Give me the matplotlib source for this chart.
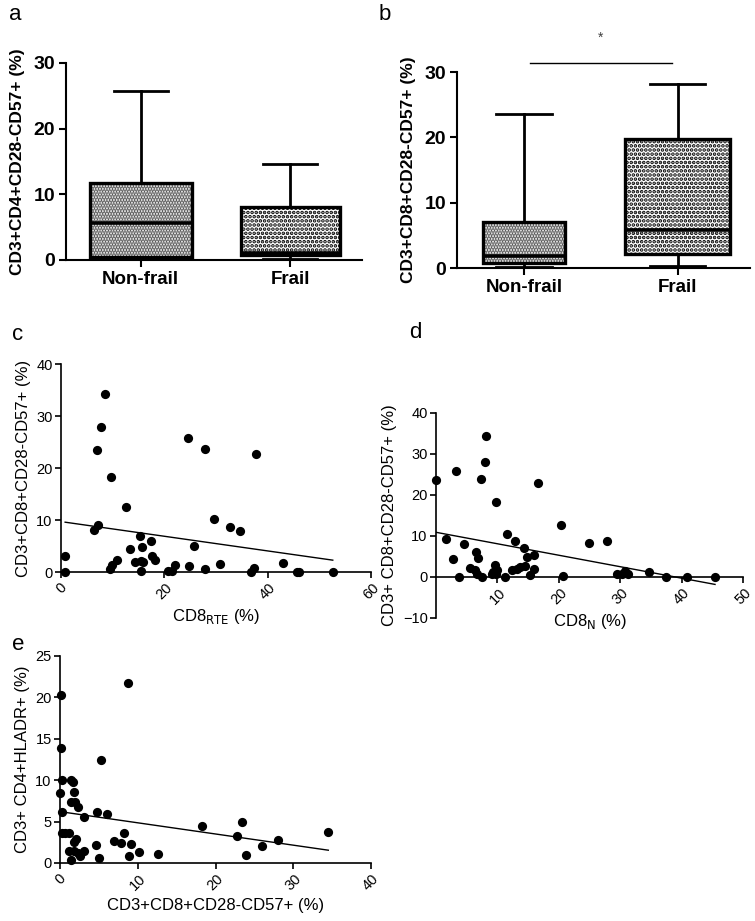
import numpy as np
import matplotlib
matplotlib.use("Agg")
import matplotlib.pyplot as plt

plt.rcParams['font.family'] = ['Liberation Sans', 'DejaVu Sans']
plt.rcParams['hatch.linewidth'] = 1.8

# ---- box plots (a, b): min, Q1, median, Q3, max
groups = ['Non-frail', 'Frail']
cd4_stats = [[0.2, 0.5, 5.7, 11.7, 25.8],
             [0.2, 0.8, 1.1, 8.1, 14.6]]
cd8_stats = [[0.2, 0.8, 1.8, 7.0, 23.6],
             [0.3, 2.2, 5.8, 19.8, 28.1]]
sig_y = 31.4
star_y = 35.2

# ---- c: CD8 RTE vs CD3+CD8+CD28-CD57+
rte_x = [0.8, 0.8, 6.4, 7.1, 7.0, 7.7, 8.6, 9.7, 12.5, 9.5, 9.9, 10.8, 13.3,
         15.2, 14.4, 15.7, 15.4, 15.9, 15.4, 17.5, 17.6, 18.1, 20.8, 21.5,
         22.1, 24.6, 24.7, 25.8, 27.9, 27.9, 29.7, 30.8, 32.8, 34.7, 37.3,
         36.8, 37.8, 42.9, 45.7, 46.0, 52.6]
rte_y = [3.0, 0.0, 8.0, 9.0, 23.5, 27.9, 34.3, 18.3, 12.5, 0.6, 1.3, 2.3, 4.5,
         7.0, 1.9, 4.8, 2.2, 1.9, 0.2, 6.0, 3.0, 2.4, 0.2, 0.2,
         1.4, 25.8, 1.2, 5.1, 23.7, 0.6, 10.2, 1.6, 8.7, 7.9, 0.8,
         0.0, 22.7, 1.7, 0.0, 0.0, 0.0]
rte_fit = (9.7, -0.141)   # intercept, slope

# ---- d: CD8 naive vs CD3+CD8+CD28-CD57+
n_x = [0.0, 3.3, 7.3, 8.0, 8.2, 9.7, 16.6, 20.3, 24.9, 27.9,
       1.6, 2.7, 3.7, 4.5, 5.6, 6.5, 6.9, 6.4, 6.6, 7.5, 9.3, 9.6, 9.9,
       9.8, 9.1, 11.2, 11.6, 12.4, 12.9, 13.1, 13.7, 14.3, 14.4, 14.8,
       15.3, 15.9, 16.0, 20.6, 29.4, 30.3, 30.8, 31.2, 34.7, 37.4,
       40.8, 45.4]
n_y = [23.7, 25.9, 23.9, 28.0, 34.3, 18.3, 22.9, 12.7, 8.2, 8.8,
       9.2, 4.5, 0.0, 8.0, 2.3, 6.2, 4.7, 1.7, 0.7, 0.0, 1.3, 2.9, 1.7,
       0.7, 0.7, 0.0, 10.4, 1.7, 8.8, 2.0, 2.4, 7.0, 2.8, 4.8,
       0.5, 1.9, 5.4, 0.2, 0.7, 0.7, 1.5, 0.7, 1.3, 0.0,
       0.0, 0.0]
n_fit = (10.9, -0.28)

# ---- e: CD3+CD8+CD28-CD57+ vs CD3+CD4+HLADR+
sen_x = [0.1, 0.1, 0.3, 0.0, 0.3, 0.2, 0.6, 1.2, 1.4, 1.7, 1.8, 1.4, 1.9,
         2.3, 1.1, 1.4, 1.8, 2.0, 1.8, 2.3, 2.6, 3.1, 3.1, 4.6, 4.7, 5.0,
         5.3, 6.1, 7.0, 7.9, 8.2, 8.7, 8.9, 9.1, 10.2, 12.6, 18.2, 22.8,
         23.4, 23.9, 26.0, 28.0, 34.5]
hla_y = [20.3, 13.9, 10.0, 8.5, 6.1, 3.6, 3.6, 3.6, 10.0, 9.8, 8.6, 7.4, 7.4,
         6.8, 1.5, 0.3, 1.5, 2.9, 2.5, 1.2, 0.8, 1.5, 5.5, 2.2, 6.2, 0.6,
         12.4, 5.9, 2.6, 2.4, 3.6, 21.7, 0.8, 2.3, 1.3, 1.1, 4.5, 3.2,
         4.9, 1.0, 2.0, 2.8, 3.7]
sen_fit = (6.2, -0.135)

fig = plt.figure(figsize=(7.55, 9.21), dpi=100)


def box_panel(rect, stats, ylabel, xlim, widths):
    ax = fig.add_axes(rect)
    pos = [1, 2]
    fills = [dict(hatch='......', edgecolor='0.35'), dict(hatch='....', edgecolor='black')]
    bxp_stats = []
    for i, s in enumerate(stats):
        lo, q1, med, q3, hi = s
        ax.bar(pos[i], q3 - q1, bottom=q1, width=widths[i], facecolor='white',
               linewidth=0, zorder=1, **fills[i])
        bxp_stats.append(dict(whislo=lo, q1=q1, med=med, q3=q3, whishi=hi, fliers=[]))
    ax.bxp(bxp_stats, positions=pos, widths=widths, showfliers=False,
           patch_artist=True, capwidths=[0.36, 0.36],
           boxprops=dict(facecolor='none', edgecolor='black', linewidth=2.4),
           medianprops=dict(color='black', linewidth=2.6),
           whiskerprops=dict(color='black', linewidth=2.0),
           capprops=dict(color='black', linewidth=2.0), zorder=2)
    ax.set_xlim(*xlim)
    ax.set_ylim(0, 30)
    ax.set_yticks([0, 10, 20, 30])
    ax.set_xticks(pos)
    ax.set_xticklabels(groups, fontsize=13.5, fontweight='bold')
    for t in ax.get_yticklabels():
        t.set_fontsize(14)
        t.set_fontweight('bold')
    ax.set_ylabel(ylabel, fontsize=12.5, fontweight='bold', labelpad=6)
    for side in ['top', 'right']:
        ax.spines[side].set_visible(False)
    for side in ['left', 'bottom']:
        ax.spines[side].set_linewidth(1.5)
    ax.tick_params(length=5, width=1.5, pad=3)
    return ax


ax_a = box_panel([0.0874, 0.7177, 0.392, 0.2139], cd4_stats,
                 'CD3+CD4+CD28-CD57+ (%)', (0.5, 2.48), [0.68, 0.66])
ax_b = box_panel([0.6053, 0.709, 0.388, 0.2128], cd8_stats,
                 'CD3+CD8+CD28-CD57+ (%)', (0.565, 2.47), [0.53, 0.68])
ax_b.plot([1.04, 1.96], [sig_y, sig_y], color='black', lw=1.0, clip_on=False)
ax_b.text(1.5, star_y, '*', ha='center', va='center', fontsize=10,
          color='0.25', clip_on=False)


def scatter_panel(rect, x, y, fit, xlim, xticks, ylim, yticks, xlabel, ylabel):
    ax = fig.add_axes(rect)
    ax.scatter(x, y, s=44, color='black', zorder=3, clip_on=False, linewidths=0)
    xs = np.array([min(x), max(x)])
    ax.plot(xs, fit[0] + fit[1] * xs, color='black', lw=1.0, zorder=2)
    ax.set_xlim(*xlim)
    ax.set_ylim(*ylim)
    ax.set_xticks(xticks)
    ax.set_yticks(yticks)
    ax.spines['bottom'].set_position(('data', 0))
    for side in ['top', 'right']:
        ax.spines[side].set_visible(False)
    for side in ['left', 'bottom']:
        ax.spines[side].set_linewidth(1.2)
    ax.tick_params(length=4, width=1.2, labelsize=10.5, pad=2)
    for t in ax.get_xticklabels():
        t.set_rotation(45)
        t.set_ha('center')
    ax.set_xlabel(xlabel, fontsize=12)
    ax.set_ylabel(ylabel, fontsize=12, labelpad=4)
    return ax


ax_c = scatter_panel([0.0808, 0.3789, 0.4106, 0.2258], rte_x, rte_y, rte_fit,
                     (0, 60), [0, 20, 40, 60], (0, 40), [0, 10, 20, 30, 40],
                     'CD8$_{\\mathrm{RTE}}$ (%)', 'CD3+CD8+CD28-CD57+ (%)')
ax_d = scatter_panel([0.5775, 0.329, 0.407, 0.2226], n_x, n_y, n_fit,
                     (0, 50), [10, 20, 30, 40, 50], (-10, 40), [-10, 0, 10, 20, 30, 40],
                     'CD8$_{\\mathrm{N}}$ (%)', 'CD3+ CD8+CD28-CD57+ (%)')
ax_e = scatter_panel([0.0795, 0.063, 0.412, 0.2248], sen_x, hla_y, sen_fit,
                     (0, 40), [0, 10, 20, 30, 40], (0, 25), [0, 5, 10, 15, 20, 25],
                     'CD3+CD8+CD28-CD57+ (%)', 'CD3+ CD4+HLADR+ (%)')

# panel letters
for lab, (px, py) in zip('abcde', [(15, 15), (385, 15), (18, 335), (415, 333), (18, 645)]):
    fig.text(px / 755, 1 - py / 921, lab, fontsize=16, ha='center', va='center')

fig.savefig('out.png', dpi=100)
